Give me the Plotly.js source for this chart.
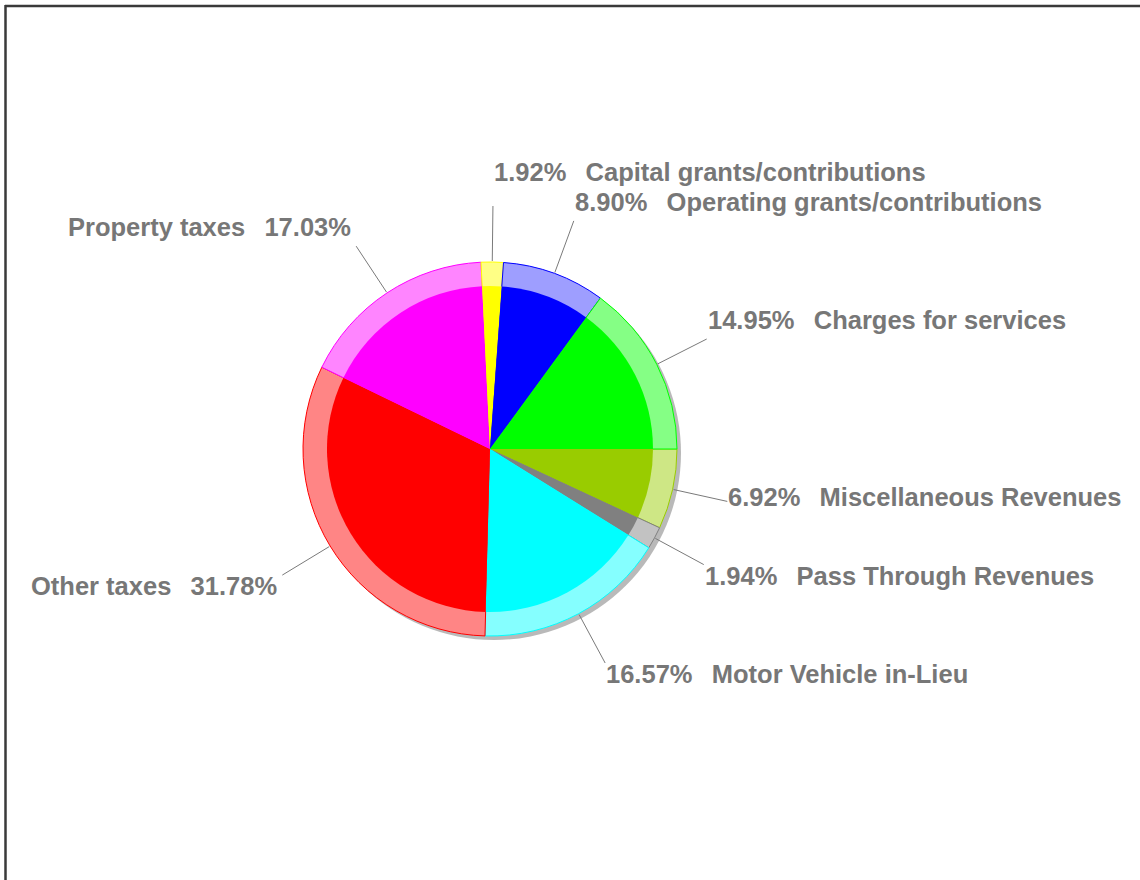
<!DOCTYPE html>
<html><head><meta charset="utf-8">
<script src="https://cdn.plot.ly/plotly-3.0.1.min.js"></script>
<style>html,body{margin:0;padding:0;background:#fff}#chart{width:1140px;height:880px}</style>
</head><body><div id="chart"></div>
<script>
// Data (clockwise from 3 o'clock)
const categories = ["Miscellaneous Revenues", "Pass Through Revenues", "Motor Vehicle in-Lieu", "Other taxes",
  "Property taxes", "Capital grants/contributions", "Operating grants/contributions", "Charges for services"];
const values = [6.92, 1.94, 16.57, 31.78, 17.03, 1.92, 8.90, 14.95];
const percentLabels = ["6.92%", "1.94%", "16.57%", "31.78%", "17.03%", "1.92%", "8.90%", "14.95%"];

// Styles
const sliceColors = ["#99cc00", "#808080", "#00ffff", "#ff0000", "#ff00ff", "#ffff00", "#0000ff", "#00ff00"];

const W = 1140, H = 880;
const cx = 490, cy = 449, R = 187, Rin = 163;
const px = x => x / W, py = y => 1 - y / H;

function lighten(hex, f) {
  const n = parseInt(hex.slice(1), 16);
  const r = (n >> 16) & 255, g = (n >> 8) & 255, b = n & 255;
  const m = c => Math.round(c + (255 - c) * f);
  return "rgb(" + m(r) + "," + m(g) + "," + m(b) + ")";
}
const lightColors = sliceColors.map(c => lighten(c, c === "#0000ff" ? 0.62 : 0.52));

const outerPie = {
  type: "pie", labels: categories, values: values, sort: false, direction: "clockwise", rotation: 90,
  marker: {colors: lightColors, line: {color: sliceColors, width: 1}},
  textinfo: "none", showlegend: false, hoverinfo: "label+percent",
  domain: {x: [px(cx - R), px(cx + R)], y: [py(cy + R), py(cy - R)]}
};
const innerPie = {
  type: "pie", labels: categories, values: values, sort: false, direction: "clockwise", rotation: 90,
  marker: {colors: sliceColors, line: {width: 0}},
  textinfo: "none", showlegend: false, hoverinfo: "label+percent",
  domain: {x: [px(cx - Rin), px(cx + Rin)], y: [py(cy + Rin), py(cy - Rin)]}
};

// Leader lines and labels computed from the data
const total = values.reduce((a, b) => a + b, 0);
const shapes = [];
const labels = [];
let cum = 0;
const GAP = "\u00a0\u00a0\u2009";
values.forEach((v, i) => {
  const th = 2 * Math.PI * (cum + v / 2) / total;
  cum += v;
  const c = Math.cos(th), s = Math.sin(th);
  const x1 = cx + 188 * c, y1 = cy + 188 * s;
  const x2 = cx + 243 * c, y2 = cy + 243 * s;
  shapes.push({type: "line", xref: "paper", yref: "paper", x0: px(x1), y0: py(y1), x1: px(x2), y1: py(y2),
    line: {color: "#7a7a7a", width: 1}});
  const right = c >= 0;
  let ty = y2 - 4 + (Math.abs(s) > 0.3 ? Math.sign(s) * 15 : 0);
  labels.push({i: i, right: right, x: x2, y: y2, ty: ty,
    text: right ? percentLabels[i] + GAP + categories[i] : categories[i] + GAP + percentLabels[i]});
});
// simple overlap avoidance: push upward on each side
[true, false].forEach(side => {
  const list = labels.filter(l => l.right === side).sort((a, b) => b.ty - a.ty);
  for (let k = 1; k < list.length; k++) {
    if (list[k].ty > list[k - 1].ty - 30) list[k].ty = list[k - 1].ty - 30;
  }
});
const annotations = labels.map(l => ({
  xref: "paper", yref: "paper", x: px(l.x), y: py(l.ty), showarrow: false,
  xanchor: l.right ? "left" : "right", yanchor: "middle", xshift: l.right ? -1 : -3,
  text: l.text, font: {family: "Liberation Sans, Arial, sans-serif", size: 25.5, color: "#777777", weight: "bold"}
}));

// shadow and frame
shapes.push({type: "circle", xref: "paper", yref: "paper", layer: "below",
  x0: px(cx + 4 - R), x1: px(cx + 4 + R), y0: py(cy + 4 + R), y1: py(cy + 4 - R),
  fillcolor: "#b9b9b9", line: {width: 0}});
shapes.push({type: "line", xref: "paper", yref: "paper", x0: px(5), x1: px(1140), y0: py(6), y1: py(6),
  line: {color: "#3a3a3a", width: 2.5}});
shapes.push({type: "line", xref: "paper", yref: "paper", x0: px(5.5), x1: px(5.5), y0: py(5), y1: py(880),
  line: {color: "#3a3a3a", width: 2.5}});

const layout = {
  width: W, height: H, margin: {l: 0, r: 0, t: 0, b: 0},
  paper_bgcolor: "#ffffff", showlegend: false,
  shapes: shapes, annotations: annotations
};
Plotly.newPlot("chart", [outerPie, innerPie], layout, {displayModeBar: false, staticPlot: true});
</script>
</body></html>
